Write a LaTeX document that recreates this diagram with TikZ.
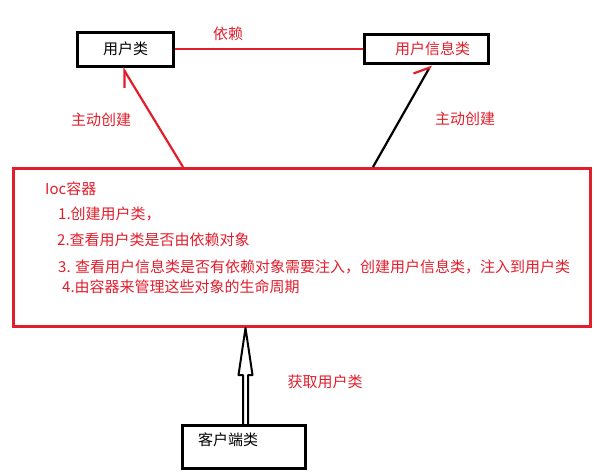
\documentclass[tikz,border=0pt]{standalone}
\usepackage{fontspec}
\setmainfont{Noto Sans CJK SC}
\usetikzlibrary{arrows.meta}
\definecolor{black}{RGB}{0,0,0}
\definecolor{red}{RGB}{226,30,44}

\begin{document}
\begin{tikzpicture}[x=1pt,y=-1pt]
    \tikzset{%
      box/.style={rectangle, draw, line width=3pt, inner sep=0pt,
        font=\fontsize{15}{18}\selectfont},
      txt/.style={red, inner sep=0pt, font=\fontsize{15}{18}\selectfont},
      line/.style={txt, anchor=west},
      link/.style={red, line width=2.2pt},
    }
    \useasboundingbox (0,0) rectangle (609,472);
    \node[box, minimum width=96, minimum height=34] (U) at (125.5,49) {用户类};
    \node[box, text=red, minimum width=124, minimum height=29] (I) at (426.5,49)
      {\hspace*{12pt}用户信息类};
    \node[box, draw=red, minimum width=577, minimum height=158] (C) at (302,247.5) {};
    \node[box, minimum width=123, minimum height=43, text height=12pt,
      text depth=15pt] (K) at (244,447) {客户端类\hspace*{32pt}};

    \draw [link] (U.east) -- (I.west);
    \node[txt] (D) at (228,34) {依赖};

    \draw [link, -{Straight Barb[harpoon, length=14.5pt, width=17.6pt]}]
      ([xshift=171pt]C.north west) -- ([xshift=-3pt]U.south);
    \node[txt] (L) at (101,120) {主动创建};
    \draw [line width=2.2pt, -{Straight Barb[harpoon, color=red, length=13pt, width=22pt]}]
      ([xshift=361pt]C.north west) -- ([xshift=4.5pt]I.south);
    \node[txt] (R) at (465,119) {主动创建};

    \node[line] (C0) at (45,189) {Ioc容器};
    \node[line] (C1) at (58,214) {1.创建用户类，};
    \node[line] (C2) at (57,240) {2.查看用户类是否由依赖对象};
    \node[line] (C3) at (58,267) {3. 查看用户信息类是否有依赖对象需要注入，创建用户信息类，注入到用户类};
    \node[line] (C4) at (62,287) {4.由容器来管理这些对象的生命周期};

    %\draw [->] (K) -- (C);
    \draw [line width=2pt, line join=round] ([xshift=-56.5pt]C.south) coordinate (H)
      ++(-2.5,98) -- ++(0,-51) -- ++(-4.5,0) -- (H) -- ++(7,47) -- ++(-4.5,0) -- ++(0,51);
    \node[txt] (G) at (325,382) {获取用户类};
\end{tikzpicture}
\end{document}
